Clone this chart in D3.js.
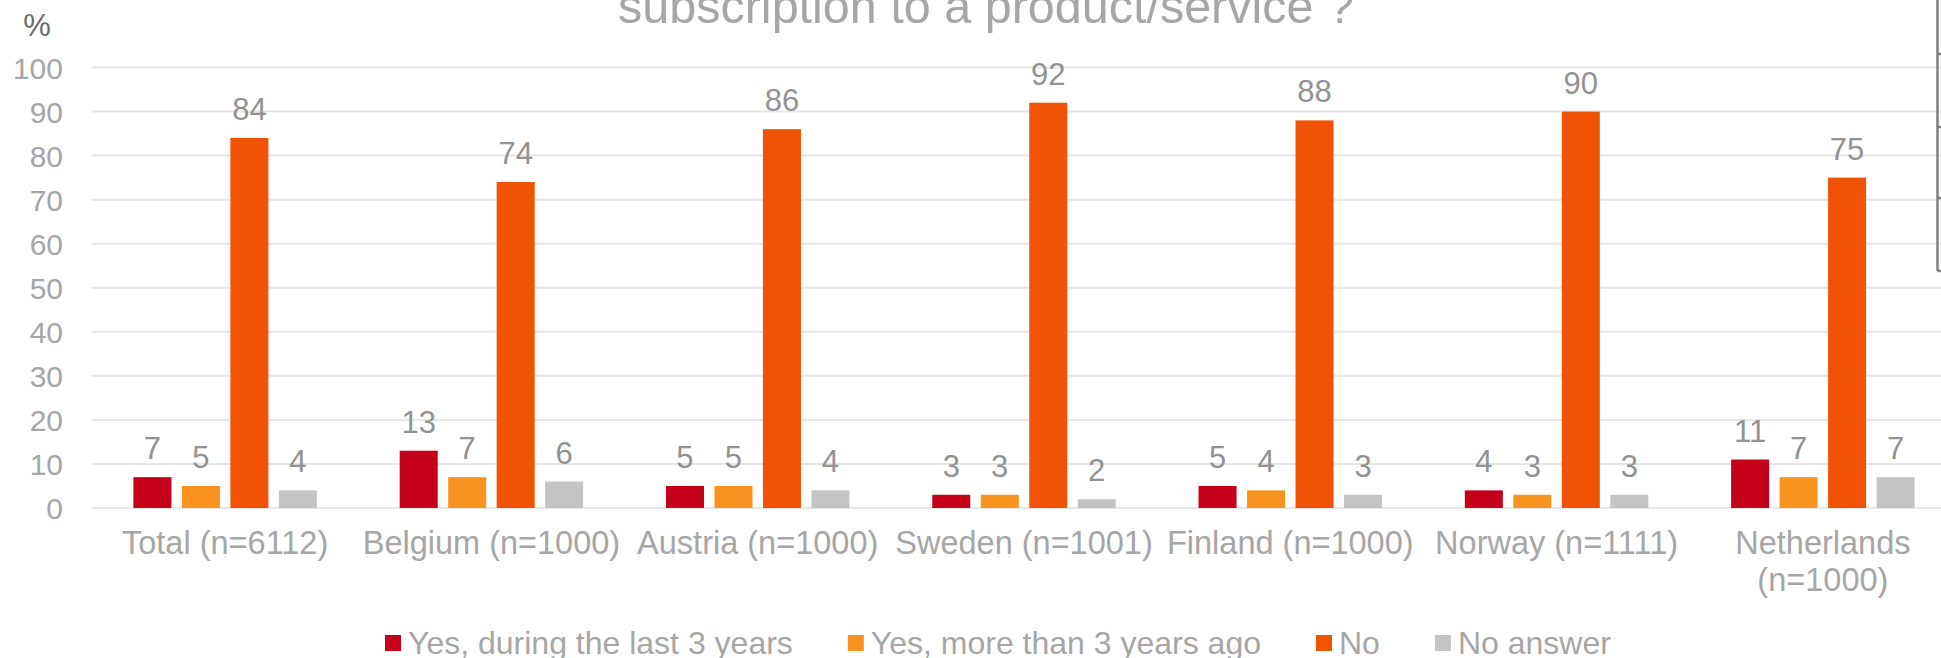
<!DOCTYPE html>
<html>
<head>
<meta charset="utf-8">
<script src="https://cdn.jsdelivr.net/npm/d3@7"></script>
<style>
  html, body { margin: 0; padding: 0; background: #fff; }
  svg { display: block; font-family: "Liberation Sans", Arial, sans-serif; }
</style>
</head>
<body>
<svg id="chart" width="1941" height="658"></svg>
<script>
// ---- data ----
const categories = ["Total (n=6112)", "Belgium (n=1000)", "Austria (n=1000)", "Sweden (n=1001)", "Finland (n=1000)", "Norway (n=1111)", "Netherlands (n=1000)"];
const seriesNames = ["Yes, during the last 3 years", "Yes, more than 3 years ago", "No", "No answer"];
const yesRecent = [7, 13, 5, 3, 5, 4, 11];
const yesOlder = [5, 7, 5, 3, 4, 3, 7];
const noValues = [84, 74, 86, 92, 88, 90, 75];
const noAnswer = [4, 6, 4, 2, 3, 3, 7];
const yTicks = [0, 10, 20, 30, 40, 50, 60, 70, 80, 90, 100];
const titleText = "subscription to a product/service ?";
const unitLabel = "%";
const seriesColors = ["#c5001a", "#f7931e", "#f15306", "#c4c4c4"];

const seriesValues = [yesRecent, yesOlder, noValues, noAnswer];
const rows = categories.map((c, i) => ({
  category: c,
  values: seriesNames.map((s, j) => ({ series: s, value: seriesValues[j][i], color: seriesColors[j] }))
}));

// ---- layout ----
const W = 1941, H = 658;
const plotLeft = 92, plotRight = 1956, yBottom = 508, yTop = 67.5;
const svg = d3.select("#chart");

const x0 = d3.scaleBand().domain(categories).range([plotLeft, plotRight]).paddingInner(0.311).paddingOuter(0.1555);
const x1 = d3.scaleBand().domain(seriesNames).range([0, x0.bandwidth()]).paddingInner(0.216);
const y = d3.scaleLinear().domain([0, 100]).range([yBottom, yTop]);

// gridlines
svg.append("g").selectAll("line").data(yTicks).join("line")
  .attr("x1", plotLeft).attr("x2", W)
  .attr("y1", d => y(d)).attr("y2", d => y(d))
  .attr("stroke", "#e6e6e6").attr("stroke-width", 2);

// y axis labels
const yAxis = d3.axisLeft(y).tickValues(yTicks).tickSize(0).tickPadding(0).tickFormat(d3.format("d"));
const yg = svg.append("g").attr("transform", `translate(${63},0)`).call(yAxis);
yg.select(".domain").remove();
yg.selectAll("text").attr("fill", "#a6a6a6").style("font-size", "30px")
  .attr("font-family", "Liberation Sans, Arial, sans-serif").attr("dy", "0.35em");

// unit label
svg.append("text").attr("x", 37).attr("y", 36).attr("text-anchor", "middle")
  .attr("fill", "#6b6b6b").style("font-size", "31px").text(unitLabel);

// title (visible line)
svg.append("text").attr("x", 986).attr("y", 23).attr("text-anchor", "middle")
  .attr("fill", "#a6a6a6").style("font-size", "48.5px").text(titleText);

// bars
const groups = svg.append("g").selectAll("g").data(rows).join("g")
  .attr("transform", d => `translate(${x0(d.category)},0)`);
groups.selectAll("rect").data(d => d.values).join("rect")
  .attr("x", d => x1(d.series))
  .attr("y", d => y(d.value))
  .attr("width", x1.bandwidth())
  .attr("height", d => y(0) - y(d.value))
  .attr("fill", d => d.color);
groups.selectAll("text").data(d => d.values).join("text")
  .attr("x", d => x1(d.series) + x1.bandwidth() / 2)
  .attr("y", d => y(d.value) - 18)
  .attr("text-anchor", "middle")
  .attr("fill", "#929292").style("font-size", "31px")
  .text(d => d.value);

// x axis labels with wrapping
const xAxis = d3.axisBottom(x0).tickSize(0).tickPadding(0);
const xg = svg.append("g").attr("transform", `translate(0,${yBottom})`).call(xAxis);
xg.select(".domain").remove();
xg.selectAll("text").attr("fill", "#a6a6a6").style("font-size", "32.5px")
  .attr("font-family", "Liberation Sans, Arial, sans-serif").attr("y", 46).attr("dy", 0)
  .each(function(d) {
    const t = d3.select(this);
    const words = d.split(" ");
    const maxW = x0.step() + 10;
    t.text(null);
    let line = [];
    let tspan = t.append("tspan").attr("x", 0).attr("dy", 0);
    for (const w of words) {
      line.push(w);
      tspan.text(line.join(" "));
      if (tspan.node().getComputedTextLength() > maxW && line.length > 1) {
        line.pop();
        tspan.text(line.join(" "));
        line = [w];
        tspan = t.append("tspan").attr("x", 0).attr("dy", 37).text(w);
      }
    }
  });

// legend
const legend = svg.append("g");
let lx = 385;
seriesNames.forEach((s, i) => {
  legend.append("rect").attr("x", lx).attr("y", 635).attr("width", 16).attr("height", 16).attr("fill", seriesColors[i]);
  const t = legend.append("text").attr("x", lx + 23).attr("y", 654).attr("fill", "#a6a6a6")
    .style("font-size", "32px").text(s);
  lx = lx + 23 + t.node().getComputedTextLength() + 55;
});

// partial frame of adjacent element at right edge
const edgeX = 1937.5;
const edgeTicks = [54, 127, 198, 271];
const edge = svg.append("g").attr("stroke", "#7f7f7f").attr("stroke-width", 2.5);
edge.append("line").attr("x1", edgeX).attr("x2", edgeX).attr("y1", 0).attr("y2", 271);
edge.selectAll("line.tk").data(edgeTicks).join("line").attr("class", "tk")
  .attr("x1", edgeX).attr("x2", W).attr("y1", d => d).attr("y2", d => d);
</script>
</body>
</html>
